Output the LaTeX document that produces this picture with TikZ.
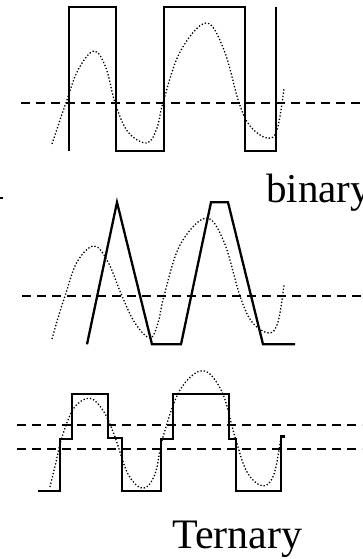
\documentclass[tikz,border=0pt]{standalone}
\usepackage{fontspec}
\setmainfont{Liberation Serif}
\begin{document}
\begin{tikzpicture}[x=1pt,y=-1pt,
  wave/.style={line width=2.3pt,line join=miter},
  level/.style={line width=2pt,dash pattern=on 9pt off 6pt},
  signal/.style={line width=1.3pt,dash pattern=on 1.3pt off 2pt,smooth,tension=0.6},
  lbl/.style={font=\fontsize{41}{48}\selectfont,inner sep=0pt}]
\path[use as bounding box] (0,0) rectangle (362,559);
% top: binary square wave
\draw[level] (21,102.7) -- (362,102.7);
\draw[signal] plot coordinates {(52,144) (59,123) (66,102.7) (78,70) (94,51) (106,68) (115,102.7) (128,132) (147,143) (157,128) (163,102.7) (180,52) (206,23) (224,50) (239,102.7) (250,126) (267,138) (277,130) (284,89)};
\draw[wave] (69,150.7) -- (69,6.7) -- (116,6.7) -- (116,150.7) -- (164,150.7) -- (164,6.7) -- (245,6.7) -- (245,150.7) -- (276,150.7) -- (276,6.7);
% middle: triangle wave
\draw[level] (22,296) -- (362,296);
\draw[signal] plot coordinates {(52,339) (58,318) (65,296) (77,262) (94,246) (108,262) (122,296) (135,323) (150,338) (158,323) (164,296) (180,245) (206,218) (224,242) (240,296) (252,322) (269,333) (278,322) (284,285)};
\draw[wave] (87,344.3) -- (117,202.3) -- (152,344.3) -- (181,344.3) -- (211,202.3) -- (228,202.3) -- (263,344.3) -- (295,344.3);
% bottom: ternary staircase
\draw[level] (17,425) -- (362,425);
\draw[level] (17,449.3) -- (362,449.3);
\draw[signal] plot coordinates {(50,487) (56,462) (62,437) (74,408) (90,398.3) (104,412) (115,437) (128,474) (143,488.3) (155,474) (163,437) (180,390) (203,370.7) (222,392) (235,437) (247,472) (263,486) (274,474) (281,437)};
\draw[wave] (38,490.7) -- (60,490.7) -- (60,439) -- (72,439) -- (72,393.7) -- (108,393.7) -- (108,438.3) -- (122,438.3) -- (122,490.7) -- (161,490.7) -- (161,439) -- (173,439) -- (173,393.7) -- (229,393.7) -- (229,439) -- (236,439) -- (236,490.7) -- (281,490.7) -- (281,436.5) -- (285,436.5);
% labels
\node[lbl,anchor=base west] (binary) at (266,202) {binary};
\node[lbl,anchor=base,font=\fontsize{42}{48}\selectfont] (ternary) at (237.5,548) {Ternary};
% arrow fragment at left edge
\coordinate (fa) at (0,198);
\coordinate (fb) at (3,198);
\draw[line width=1.5pt] (fa) -- (fb);
\end{tikzpicture}
\end{document}
